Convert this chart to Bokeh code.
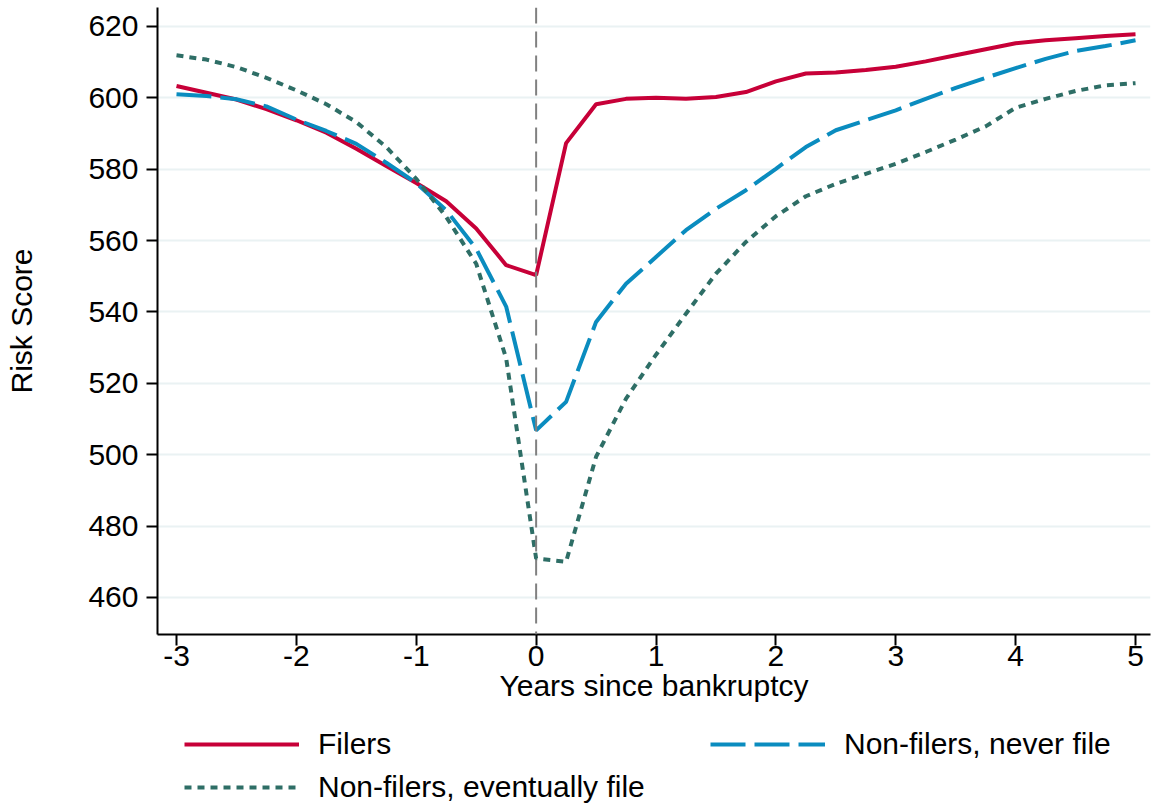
from bokeh.plotting import figure
from bokeh.layouts import column
from bokeh.models import Range1d, FixedTicker, Span, Legend, LegendItem
from bokeh.embed import file_html
from bokeh.resources import INLINE

years = [-3.0, -2.75, -2.5, -2.25, -2.0, -1.75, -1.5, -1.25, -1.0, -0.75, -0.5, -0.25,
         0.0, 0.25, 0.5, 0.75, 1.0, 1.25, 1.5, 1.75, 2.0, 2.25, 2.5, 2.75, 3.0,
         3.25, 3.5, 3.75, 4.0, 4.25, 4.5, 4.75, 5.0]

filers = [603.3, 601.4, 599.5, 596.8, 593.7, 590.2, 585.7, 580.9, 576.1, 571.0, 563.4, 553.1,
          550.3, 587.3, 598.2, 599.7, 600.0, 599.7, 600.2, 601.6, 604.6, 606.8, 607.1, 607.8,
          608.7, 610.2, 611.9, 613.6, 615.3, 616.1, 616.7, 617.3, 617.8]

never_file = [601.0, 600.5, 599.6, 597.6, 593.9, 590.7, 587.1, 581.8, 576.1, 568.5, 557.7, 541.5,
              506.8, 514.8, 537.2, 547.9, 555.4, 562.9, 568.9, 574.1, 580.1, 586.2, 590.9, 593.7,
              596.5, 599.7, 602.8, 605.6, 608.3, 610.9, 613.1, 614.5, 616.1]

eventually_file = [611.9, 610.7, 608.6, 605.6, 602.1, 598.2, 593.2, 586.2, 577.3, 566.6, 553.5, 527.0,
                   470.9, 470.0, 499.4, 515.7, 528.0, 539.5, 550.7, 559.6, 566.8, 572.4, 575.9, 578.7,
                   581.5, 584.8, 588.3, 592.0, 597.2, 599.7, 601.9, 603.5, 604.1]

y_ticks = [460, 480, 500, 520, 540, 560, 580, 600, 620]
x_ticks = [-3, -2, -1, 0, 1, 2, 3, 4, 5]
x_tick_labels = ["-3", "-2", "-1", "0", "1", "2", "3", "4", "5"]

labels = ["Filers", "Non-filers, never file", "Non-filers, eventually file"]
colors = ["#c70038", "#0a8cbf", "#2e6e66"]
dashes = ["solid", "35 9", "7 6"]

FONT = "Liberation Sans"
NAN = float("nan")
LW = 4

p = figure(width=1151, height=715, output_backend="svg", toolbar_location=None,
           x_range=Range1d(-3.1585, 5.125), y_range=Range1d(449.6, 625.3))
p.min_border_left = 157
p.min_border_right = 1
p.min_border_top = 7
p.min_border_bottom = 81
p.outline_line_color = None
p.background_fill_color = "white"
p.border_fill_color = "white"

p.xgrid.grid_line_color = None
p.ygrid.grid_line_color = "#eaf2f3"
p.ygrid.grid_line_width = 2

p.yaxis.ticker = FixedTicker(ticks=y_ticks)
p.xaxis.ticker = FixedTicker(ticks=x_ticks)
p.xaxis.major_label_overrides = {t: s for t, s in zip(x_ticks, x_tick_labels)}
for ax in (p.xaxis[0], p.yaxis[0]):
    ax.axis_line_color = "black"
    ax.axis_line_width = 2
    ax.major_tick_line_color = "black"
    ax.major_tick_line_width = 2
    ax.major_tick_out = 11
    ax.major_tick_in = 0
    ax.minor_tick_line_color = None
    ax.major_label_text_font = FONT
    ax.major_label_text_font_size = "30px"
    ax.major_label_text_color = "black"
    ax.axis_label_text_font = FONT
    ax.axis_label_text_font_size = "30px"
    ax.axis_label_text_font_style = "normal"
    ax.axis_label_text_color = "black"

p.xaxis.axis_label = "Years since bankruptcy"
p.yaxis.axis_label = "Risk Score"
p.xaxis.major_label_standoff = 0
p.xaxis.axis_label_standoff = 0
p.yaxis.major_label_standoff = 8
p.yaxis.axis_label_standoff = 47
p.yaxis.major_label_orientation = "horizontal"

zero_line = Span(location=0, dimension="height", line_color="#808080",
                 line_width=2, line_dash="16 8")
p.add_layout(zero_line)

series = [filers, never_file, eventually_file]
for vals, c, d in zip(series, colors, dashes):
    p.line(years, vals, line_color=c, line_width=LW, line_dash=d)

# Legend strip below the plot (keys drawn by the legend from same-styled, non-plotted renderers)
lf = figure(width=1151, height=90, output_backend="svg", toolbar_location=None,
            x_range=Range1d(0, 1), y_range=Range1d(0, 1))
lf.min_border = 0
lf.min_border_left = 157
lf.min_border_right = 1
lf.axis.visible = False
lf.grid.visible = False
lf.outline_line_color = None
lf.background_fill_color = "white"
lf.border_fill_color = "white"

keys = [lf.line([NAN], [NAN], line_color=c, line_width=LW, line_dash=d) for c, d in zip(colors, dashes)]

legend = Legend(items=[LegendItem(label=lab, renderers=[r]) for lab, r in zip(labels, keys)],
                orientation="horizontal", ncols=2,
                location=(27, 1), margin=0, padding=0,
                glyph_width=115, glyph_height=30, label_standoff=19,
                label_width=384, label_height=35, spacing=8,
                label_text_font=FONT, label_text_font_size="30px",
                label_text_color="black",
                background_fill_alpha=0, border_line_color=None)
lf.add_layout(legend)

layout = column(p, lf, spacing=0)
open("out.html", "w").write(file_html(layout, INLINE))
